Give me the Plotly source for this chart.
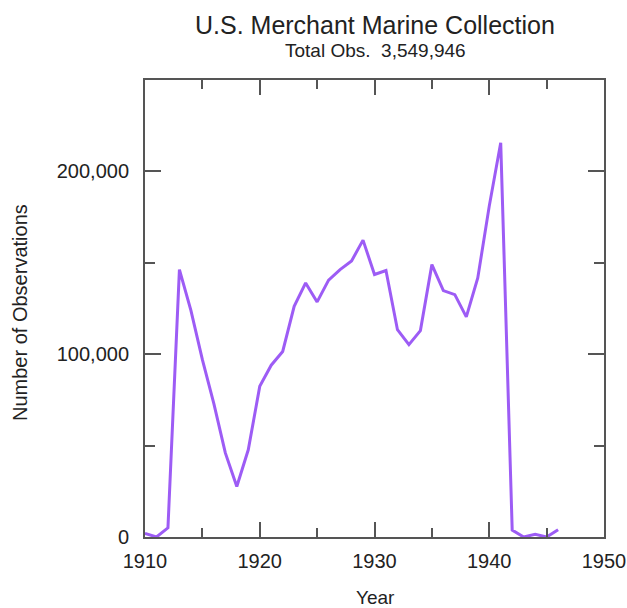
import plotly.graph_objects as go

years = list(range(1910, 1947))
observations = [
    2000, 0, 5000, 146300, 124000, 97000, 73000, 46000, 27600, 47700,
    82400, 94000, 101500, 126200, 139000, 128600, 140500, 146300, 151000, 162400,
    143600, 145800, 113400, 105200, 112900, 149000, 134800, 132600, 120400, 141700,
    181000, 215700, 3800, 0, 1500, 0, 4000,
]

title_text = "U.S. Merchant Marine Collection"
subtitle_text = "Total Obs.&nbsp;&nbsp;3,549,946"
x_title = "Year"
y_title = "Number of Observations"

x_ticks = [1910, 1920, 1930, 1940, 1950]
y_ticks = [0, 100000, 200000]
y_ticklabels = ["0", "100,000", "200,000"]

font_family = "Liberation Sans, Arial, sans-serif"
frame = "#555555"
text_color = "#222222"

W, H = 627, 608
ML, MR, MT, MB = 145, 23, 80, 71
PW = W - ML - MR
PH = H - MT - MB


def px_to_paper(x_px, y_px):
    return (x_px - ML) / PW, 1 - (y_px - MT) / PH


fig = go.Figure()
fig.add_trace(go.Scatter(
    x=years, y=observations, mode="lines",
    line=dict(color="#9D5CF5", width=3),
    showlegend=False,
))

axis_common = dict(
    showgrid=False, zeroline=False, showline=True, linecolor=frame, linewidth=2,
    mirror="ticks", ticks="inside", tickcolor=frame, tickwidth=2,
)

fig.update_xaxes(
    range=[1910, 1950], tickvals=x_ticks, ticklen=15, ticklabelstandoff=5,
    ticklabeloverflow="allow",
    tickfont=dict(family=font_family, size=20, color=text_color),
    minor=dict(dtick=5, tick0=1910, ticks="inside", ticklen=9, tickcolor=frame, tickwidth=2),
    **axis_common,
)
fig.update_yaxes(
    range=[0, 250000], tickvals=y_ticks, ticktext=y_ticklabels, ticklen=16,
    ticklabelstandoff=10,
    tickfont=dict(family=font_family, size=20, color=text_color),
    minor=dict(dtick=50000, tick0=0, ticks="inside", ticklen=10, tickcolor=frame, tickwidth=2),
    **axis_common,
)

annotations = []
for text, xp, yp, size, angle in [
    (title_text, 375, 25, 25, 0),
    (subtitle_text, 375, 50, 19, 0),
    (x_title, 375, 597, 19, 0),
    (y_title, 20, 313, 20, -90),
]:
    ax, ay = px_to_paper(xp, yp)
    annotations.append(dict(
        text=text, x=ax, y=ay, xref="paper", yref="paper",
        xanchor="center", yanchor="middle", showarrow=False, textangle=angle,
        font=dict(family=font_family, size=size, color=text_color),
    ))

fig.update_layout(
    width=W, height=H,
    margin=dict(l=ML, r=MR, t=MT, b=MB, autoexpand=False),
    paper_bgcolor="white", plot_bgcolor="white",
    font=dict(family=font_family, color=text_color),
    annotations=annotations,
)

fig.write_html(
    "out.html",
    config={"displayModeBar": False},
    post_script="document.body.style.margin='0';document.body.style.overflow='hidden';",
)
